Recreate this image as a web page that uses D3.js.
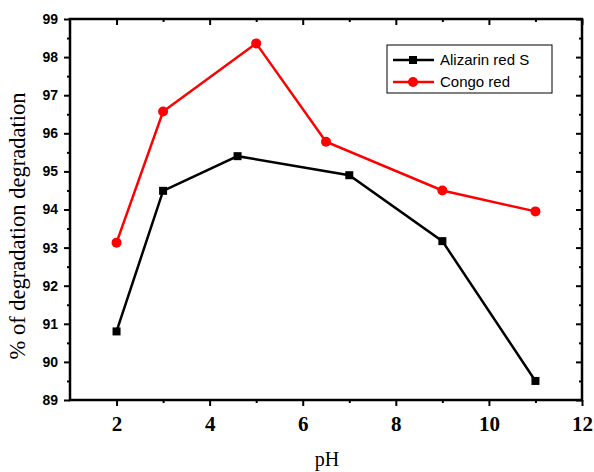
<!DOCTYPE html>
<html><head><meta charset="utf-8">
<script src="https://cdn.jsdelivr.net/npm/d3@7"></script>
<style>body{margin:0;background:#fff}svg{display:block}</style>
</head><body><svg id="c" width="594" height="472"></svg>
<script>
const alizarinPH = [2, 3, 4.6, 7, 9, 11];
const alizarinVal = [90.8, 94.49, 95.4, 94.9, 93.17, 89.5];
const congoPH = [2, 3, 5, 6.5, 9, 11];
const congoVal = [93.13, 96.57, 98.36, 95.78, 94.5, 93.95];
const xTicks = [2, 4, 6, 8, 10, 12];
const yTicks = [89, 90, 91, 92, 93, 94, 95, 96, 97, 98, 99];
const seriesNames = ["Alizarin red S", "Congo red"];
const seriesColors = ["#000000", "#ff0000"];

const svg = d3.select("#c");
const L = 70, R = 582, T = 19, B = 400;
const x = d3.scaleLinear().domain([1, 12]).range([L, R]);
const y = d3.scaleLinear().domain([89, 99]).range([B, T]);

const minorX = d3.range(3, 12, 2);
const minorY = d3.range(89.5, 99, 1);

// frame
svg.append("rect").attr("x", L).attr("y", T).attr("width", R - L).attr("height", B - T)
  .attr("fill", "none").attr("stroke", "#000").attr("stroke-width", 2.5);

// bottom axis (outward)
const gB = svg.append("g").attr("transform", `translate(0,${B})`)
  .call(d3.axisBottom(x).tickValues(xTicks).tickSize(6).tickFormat(d3.format("d")));
svg.append("g").attr("transform", `translate(0,${B})`)
  .call(d3.axisBottom(x).tickValues(minorX).tickSize(3).tickFormat(""));
// top axis (inward)
svg.append("g").attr("transform", `translate(0,${T})`)
  .call(d3.axisBottom(x).tickValues(xTicks).tickSize(6).tickFormat(""));
svg.append("g").attr("transform", `translate(0,${T})`)
  .call(d3.axisBottom(x).tickValues(minorX).tickSize(3).tickFormat(""));
// left axis (outward)
const gL = svg.append("g").attr("transform", `translate(${L},0)`)
  .call(d3.axisLeft(y).tickValues(yTicks).tickSize(6).tickFormat(d3.format("d")));
svg.append("g").attr("transform", `translate(${L},0)`)
  .call(d3.axisLeft(y).tickValues(minorY).tickSize(3).tickFormat(""));
// right axis (inward)
svg.append("g").attr("transform", `translate(${R},0)`)
  .call(d3.axisLeft(y).tickValues(yTicks).tickSize(6).tickFormat(""));
svg.append("g").attr("transform", `translate(${R},0)`)
  .call(d3.axisLeft(y).tickValues(minorY).tickSize(3).tickFormat(""));

svg.selectAll(".domain").remove();
svg.selectAll(".tick line").attr("stroke", "#000").attr("stroke-width", 2);

gB.selectAll(".tick text").attr("font-family", "Liberation Serif, Times New Roman, serif")
  .attr("font-weight", "bold").attr("font-size", 21).attr("y", 31).attr("dy", 0).attr("fill", "#000");
gL.selectAll(".tick text").attr("font-family", "Liberation Sans, Arial, sans-serif")
  .attr("font-weight", "bold").attr("font-size", 14).attr("x", -12).attr("fill", "#000");

// axis titles
svg.append("text").attr("x", 327).attr("y", 466).attr("text-anchor", "middle")
  .attr("font-family", "Liberation Serif, Times New Roman, serif").attr("font-size", 20).text("pH");
svg.append("text").attr("transform", `translate(25,226) rotate(-90)`)
  .attr("text-anchor", "middle")
  .attr("font-family", "Liberation Serif, Times New Roman, serif").attr("font-size", 22.5)
  .text("% of degradation degradation");

// series
const series = [
  { pts: alizarinPH.map((p, i) => [p, alizarinVal[i]]), color: seriesColors[0], marker: "square" },
  { pts: congoPH.map((p, i) => [p, congoVal[i]]), color: seriesColors[1], marker: "circle" }
];
const line = d3.line().x(d => x(d[0])).y(d => y(d[1]));
series.forEach(s => {
  svg.append("path").attr("d", line(s.pts)).attr("fill", "none")
    .attr("stroke", s.color).attr("stroke-width", 2.5);
  if (s.marker === "square") {
    svg.selectAll(null).data(s.pts).enter().append("rect")
      .attr("x", d => x(d[0]) - 4).attr("y", d => y(d[1]) - 4)
      .attr("width", 8).attr("height", 8).attr("fill", s.color);
  } else {
    svg.selectAll(null).data(s.pts).enter().append("circle")
      .attr("cx", d => x(d[0])).attr("cy", d => y(d[1])).attr("r", 5).attr("fill", s.color);
  }
});

// legend
const lg = svg.append("g");
lg.append("rect").attr("x", 387).attr("y", 45).attr("width", 165).attr("height", 48)
  .attr("fill", "#fff").attr("stroke", "#000").attr("stroke-width", 1);
seriesNames.forEach((n, i) => {
  const yy = 60 + i * 22;
  lg.append("line").attr("x1", 393).attr("x2", 434).attr("y1", yy).attr("y2", yy)
    .attr("stroke", seriesColors[i]).attr("stroke-width", 2.5);
  if (i === 0) lg.append("rect").attr("x", 409).attr("y", yy - 4).attr("width", 8).attr("height", 8).attr("fill", seriesColors[i]);
  else lg.append("circle").attr("cx", 413).attr("cy", yy).attr("r", 5).attr("fill", seriesColors[i]);
  lg.append("text").attr("x", 440).attr("y", yy).attr("dy", "0.36em")
    .attr("font-family", "Liberation Sans, Arial, sans-serif").attr("font-size", 15).text(n);
});
</script></body></html>
